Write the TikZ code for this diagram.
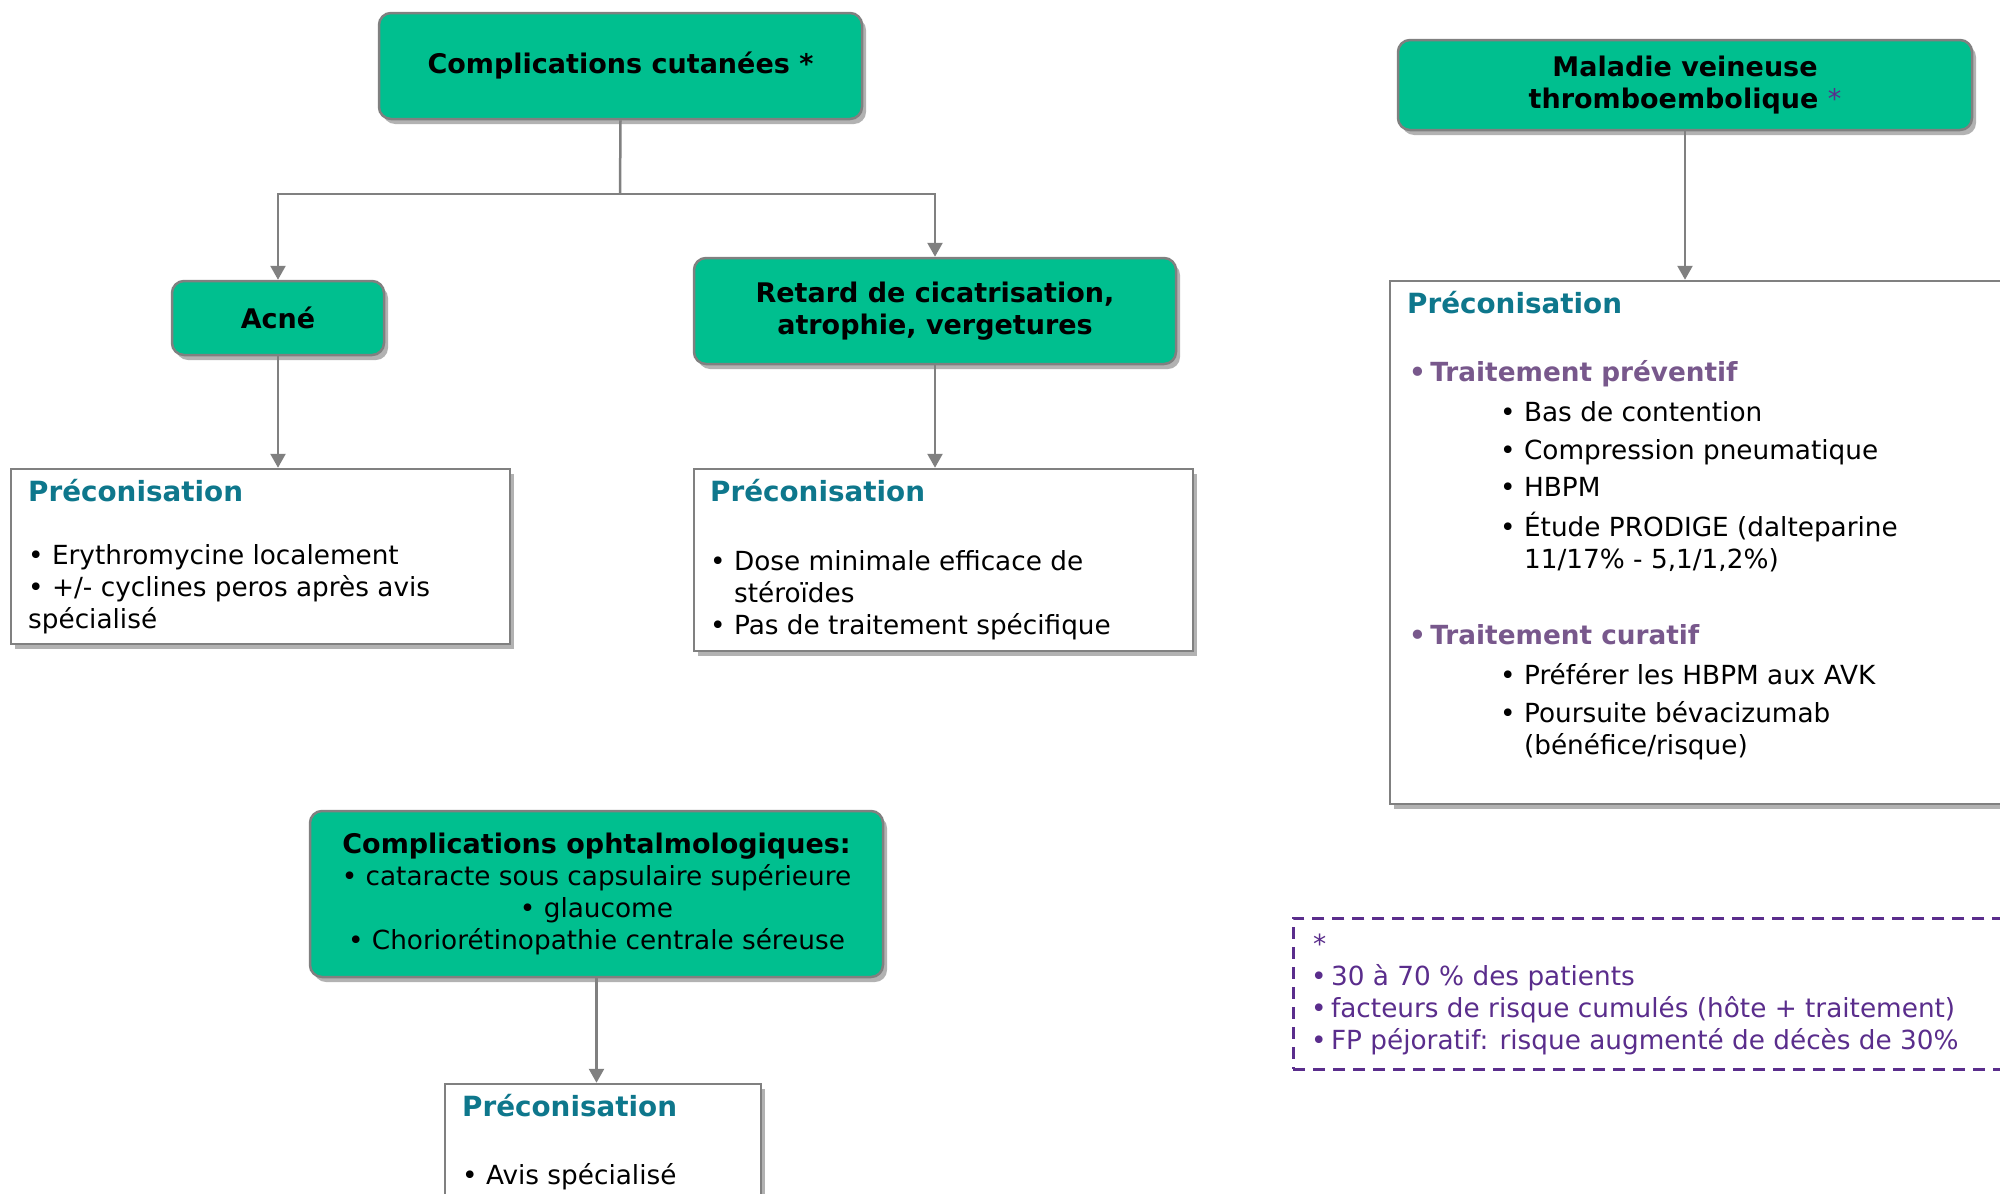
\documentclass[tikz,border=0pt]{standalone}
\usepackage{fontspec}
\setmainfont{DejaVu Sans}
\usetikzlibrary{arrows.meta,shadows}
\definecolor{gfill}{RGB}{0,191,143}
\definecolor{lgray}{RGB}{128,128,128}
\definecolor{tealc}{RGB}{14,119,140}
\definecolor{purpa}{RGB}{120,88,140}
\definecolor{purpb}{RGB}{90,45,140}
\newcommand{\bsz}{\fontsize{26.3}{32}\selectfont}
\newcommand{\hsz}{\fontsize{27}{32}\selectfont}
\newcommand{\psz}{\fontsize{27.8}{32}\selectfont}
\newcommand{\ind}{\phantom{•\ }}
\tikzset{
  box/.style={draw=lgray, line width=2.5pt, fill=white, inner sep=0pt,
    drop shadow={shadow xshift=4pt, shadow yshift=-5pt, opacity=0.3, fill=black}},
  gbox/.style={box, fill=gfill, rounded corners=12pt, align=center, font=\hsz\bfseries},
  arr/.style={draw=lgray, line width=2.5pt, -{Triangle[width=15pt,length=14pt]}},
  txt/.style={anchor=base west, inner sep=0pt, align=left, font=\bsz},
  phead/.style={txt, font=\psz\bfseries, text=tealc},
}
\begin{document}
\begin{tikzpicture}[x=1pt,y=-1pt]
\useasboundingbox (0,0) rectangle (2000,1194);
\clip (0,0) rectangle (2000,1194);
\fill[white] (0,0) rectangle (2000,1194);

% green boxes
\node[gbox, minimum width=483pt, minimum height=106pt] (cut) at (620.5,66) {Complications cutanées *};
\node[gbox, minimum width=574pt, minimum height=90pt] (mal) at (1685,85) {Maladie veineuse\\thromboembolique \textcolor{purpb}{\mdseries *}};
\node[gbox, minimum width=212pt, minimum height=74pt] (acne) at (278,318) {Acné};
\node[gbox, minimum width=482pt, minimum height=106pt] (ret) at (935,311) {Retard de cicatrisation,\\atrophie, vergetures};
\node[gbox, minimum width=573pt, minimum height=166pt, font=\bsz] (oph) at (596.5,894) {\hsz\bfseries Complications ophtalmologiques:\\• cataracte sous capsulaire supérieure\\• glaucome\\• Choriorétinopathie centrale séreuse};

% recommendation boxes
\node[box, minimum width=499pt, minimum height=175pt] (pA) at (260.5,556.5) {};
\node[box, minimum width=499pt, minimum height=182pt] (pR) at (943.5,560) {};
\node[box, minimum width=640pt, minimum height=523pt] (pV) at (1710,542.5) {};
\node[box, minimum width=316pt, minimum height=140pt] (pO) at (603,1154) {};
\node[draw=purpb, line width=2.5pt, dash pattern=on 12pt off 8pt, minimum width=740pt, minimum height=151pt, inner sep=0pt, anchor=north west] (fn) at (1292,917) {};

% connectors
\coordinate (br) at (620,194);
\draw[draw=lgray, line width=2.5pt] (cut.south) -- (br);
\draw[arr] (br) -| (acne.north);
\draw[arr] (br) -| (ret.north);
\draw[arr] (acne.south) -- (acne.south |- pA.north);
\draw[arr] (ret.south) -- (ret.south |- pR.north);
\draw[arr] (mal.south) -- (mal.south |- pV.north);
\draw[arr] (oph.south) -- (oph.south |- pO.north);

% texts: acne
\node[phead] (tA) at (28,501) {Préconisation};
\node[txt] (tA1) at (28,628) {• Erythromycine localement\\• +/- cyclines peros après avis\\spécialisé};

% texts: retard
\node[phead] (tR) at (710,501) {Préconisation};
\node[txt] (tR1) at (710,634) {• Dose minimale efficace de\\\ind stéroïdes\\• Pas de traitement spécifique};

% texts: veineuse
\node[phead] (tV) at (1407,313) {Préconisation};
\node[txt, font=\bsz\bfseries, text=purpa] (tV1) at (1409,381) {•\,Traitement préventif};
\node[txt] (tV2) at (1500,421) {• Bas de contention};
\node[txt] (tV3) at (1500,459) {• Compression pneumatique};
\node[txt] (tV4) at (1500,496) {• HBPM};
\node[txt] (tV5) at (1500,568) {• Étude PRODIGE (dalteparine\\\ind 11/17\% - 5,1/1,2\%)};
\node[txt, font=\bsz\bfseries, text=purpa] (tV6) at (1409,644) {•\,Traitement curatif};
\node[txt] (tV7) at (1500,684) {• Préférer les HBPM aux AVK};
\node[txt] (tV8) at (1500,754) {• Poursuite bévacizumab\\\ind (bénéfice/risque)};

% texts: ophtalmo
\node[phead] (tO) at (462,1116) {Préconisation};
\node[txt] (tO1) at (462,1184) {• Avis spécialisé};

% footnote
\node[txt, text=purpb] (fn1) at (1311,1049) {\hspace*{2pt}*\\•\,30 à 70 \% des patients\\•\,facteurs de risque cumulés (hôte + traitement)\\•\,FP péjoratif: risque augmenté de décès de 30\%};
\end{tikzpicture}
\end{document}
